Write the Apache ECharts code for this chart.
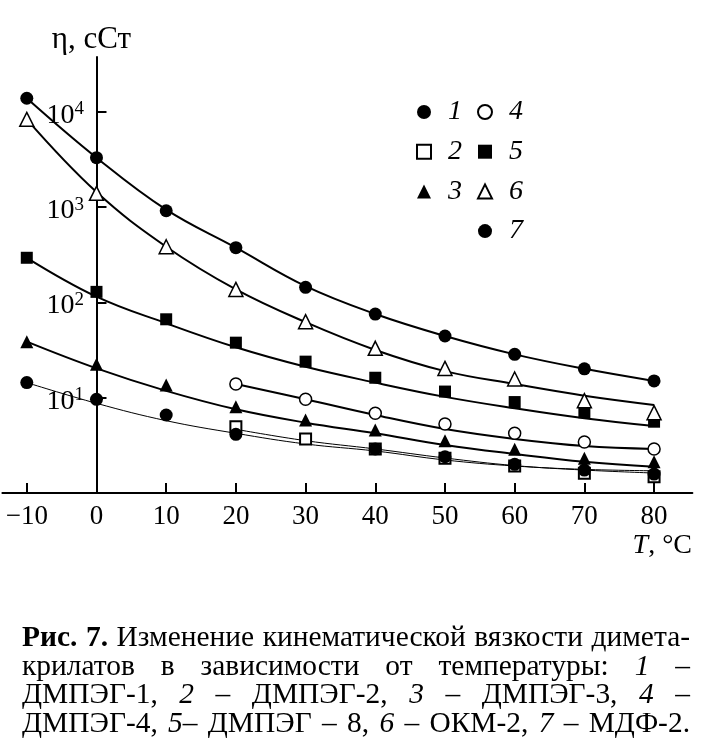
<!DOCTYPE html>
<html><head><meta charset="utf-8">
<script src="https://cdn.jsdelivr.net/npm/echarts@6/dist/echarts.min.js"></script>
<style>
html,body{margin:0;padding:0;background:#fff;}
#chart{width:703px;height:745px;position:absolute;left:0;top:0;}
#cap{position:absolute;left:22px;top:622px;width:668px;font-family:"Liberation Serif","Times New Roman",serif;font-size:27px;line-height:28.5px;color:#000;}
#cap div{text-align:justify;text-align-last:justify;white-space:nowrap;}
#meas{position:absolute;left:-2000px;top:0;white-space:nowrap;font-family:"Liberation Serif","Times New Roman",serif;font-size:27px;}
</style></head>
<body>
<div id="chart"></div>
<div id="cap">
<div><b>Рис. 7.</b> Изменение кинематической вязкости димета-</div>
<div>крилатов в зависимости от температуры: <i>1</i> –</div>
<div>ДМПЭГ-1, <i>2</i> – ДМПЭГ-2, <i>3</i> – ДМПЭГ-3, <i>4</i> –</div>
<div>ДМПЭГ-4, <i>5</i>– ДМПЭГ – 8, <i>6</i> – ОКМ-2, <i>7</i> – МДФ-2.</div>
</div>
<span id="meas"><b>Рис. 7.</b> Изменение кинематической вязкости димета-</span>
<script>
// Temperatures, °C
const temps = [-10, 0, 10, 20, 30, 40, 50, 60, 70, 80];
// Measured points (viscosity, cSt)
const pts1 = [13870, 3300, 916, 375, 144, 75.5, 44.4, 28.5, 20.1, 15.0];
const pts2 = [null, null, null, 4.96, 3.69, 2.90, 2.31, 1.92, 1.61, 1.48];
const pts3 = [38.7, 22.4, 13.6, 8.05, 5.83, 4.58, 3.54, 2.87, 2.31, 2.13];
const pts4 = [null, null, null, 13.9, 9.62, 6.86, 5.30, 4.23, 3.43, 2.90];
const pts5 = [294, 129, 66.5, 37.8, 23.9, 16.2, 11.6, 9.0, 7.03, 5.6];
const pts6 = [8340, 1396, 384, 137, 62.8, 33, 20.3, 15.7, 9.3, 6.96];
const pts7 = [14.4, 9.62, 6.58, 4.13, null, 2.9, 2.40, 2.0, 1.74, 1.58];
// Fitted curves
const fit1 = [13870, 3300, 940, 375, 148, 75.5, 44.4, 28.5, 20.1, 15.0];
const fit2 = [null, null, null, 4.66, 3.54, 2.90, 2.33, 1.94, 1.74, 1.62];
const fit3 = [38.7, 20.3, 11.8, 7.56, 5.47, 4.23, 3.19, 2.57, 2.13, 1.89];
const fit4 = [null, null, null, 13.9, 9.62, 6.58, 4.69, 3.69, 3.11, 2.90];
const fit5 = [294, 115, 60.4, 33.8, 21.1, 14.4, 10.2, 7.74, 6.08, 5.05];
const fit6 = [8340, 1440, 384, 137, 62, 31.7, 19.0, 13.9, 10.5, 8.4];
const fit7 = [14.4, 8.73, 5.74, 4.23, 3.27, 2.76, 2.22, 1.92, 1.77, 1.71];
// Tick values
const xTicks = [-10, 0, 10, 20, 30, 40, 50, 60, 70, 80];
const yTicks = [10, 100, 1000, 10000];
const legendColA = ['1', '2', '3'];
const legendColB = ['4', '5', '6', '7'];

// size caption so that the first line fills the text width naturally
(function () {
  const m = document.getElementById('meas');
  const w = m.getBoundingClientRect().width;
  const fs = 27 * 662 / w;
  document.getElementById('cap').style.fontSize = fs.toFixed(2) + 'px';
  m.style.display = 'none';
})();

const FONT = 'Liberation Serif';
const pair = arr => temps.map((t, i) => [t, arr[i]]).filter(p => p[1] != null);

function curve(arr, width) {
  return { type: 'line', data: pair(arr), smooth: 0.4, symbol: 'none', silent: true,
    lineStyle: { color: '#000', width: width }, z: 2 };
}
function marks(name, arr, symbol, size, fill, border) {
  return { type: 'scatter', name: name, data: pair(arr), symbol: symbol, symbolSize: size,
    itemStyle: { color: fill, borderColor: '#000', borderWidth: border, opacity: 1 }, z: 5 };
}

const legendBase = {
  orient: 'vertical', selectedMode: false, padding: 0, itemWidth: 14, itemHeight: 14, itemGap: 11.7,
  textStyle: { fontFamily: FONT, fontStyle: 'italic', fontSize: 28, color: '#000', padding: [0, 0, 0, 12] }
};

const GRID_LEFT = 2.4;
const chart = echarts.init(document.getElementById('chart'), null, { renderer: 'canvas' });
chart.setOption({
  animation: false,
  backgroundColor: '#fff',
  grid: { left: GRID_LEFT, right: 10.6, top: 57, bottom: 252, containLabel: false, outerBoundsMode: 'none' },
  legend: [
    Object.assign({}, legendBase, { data: legendColA, left: 416, top: 98 }),
    Object.assign({}, legendBase, { data: legendColB, left: 477, top: 98 })
  ],
  graphic: [{
    type: 'text', right: 11, top: 532, silent: true,
    style: { text: '{i|T}, °C', fill: '#000', font: '28px "Liberation Serif"',
      rich: { i: { fontStyle: 'italic', fontFamily: FONT, fontSize: 28, fill: '#000' } } }
  }],
  xAxis: {
    type: 'value', min: -13.5, max: 85.5,
    axisLine: { onZero: false, lineStyle: { color: '#000', width: 2 } },
    axisTick: { inside: true, length: 10, customValues: xTicks, lineStyle: { color: '#000', width: 2 } },
    axisLabel: { customValues: xTicks, margin: 10, color: '#000', fontFamily: FONT, fontSize: 27,
      formatter: v => (v < 0 ? '\u2212' + Math.abs(v) : String(v)) },
    splitLine: { show: false }
  },
  yAxis: {
    type: 'log', logBase: 10, min: 1, max: 37600,
    axisLine: { onZero: true, lineStyle: { color: '#000', width: 2 } },
    axisTick: { inside: true, length: 10, customValues: yTicks, lineStyle: { color: '#000', width: 2 } },
    axisLabel: { customValues: yTicks, margin: GRID_LEFT - 84, color: '#000', fontFamily: FONT, fontSize: 28,
      padding: [7, 0, 0, 0],
      formatter: v => '10{s|' + Math.round(Math.log10(v)) + '}',
      rich: { s: { fontFamily: FONT, fontSize: 19, color: '#000', verticalAlign: 'top', padding: [0, 0, 12, 0] } } },
    splitLine: { show: false },
    name: 'η, сСт', nameLocation: 'end', nameGap: 17,
    nameTextStyle: { align: 'center', verticalAlign: 'middle', color: '#000', fontFamily: FONT, fontSize: 31, padding: [0, 10, 0, 0] }
  },
  series: [
    curve(fit1, 2), curve(fit6, 2), curve(fit5, 2), curve(fit4, 2), curve(fit3, 2),
    curve(fit2, 1), curve(fit7, 1),
    marks('1', pts1, 'circle', 13, '#000', 0),
    marks('2', pts2, 'rect', 11, '#fff', 2),
    marks('3', pts3, 'triangle', 13, '#000', 0),
    marks('4', pts4, 'circle', 12, '#fff', 1.5),
    marks('5', pts5, 'rect', 12, '#000', 0),
    marks('6', pts6, 'triangle', 14, '#fff', 1.5),
    marks('7', pts7, 'circle', 13, '#000', 0)
  ]
});
</script>
</body></html>
